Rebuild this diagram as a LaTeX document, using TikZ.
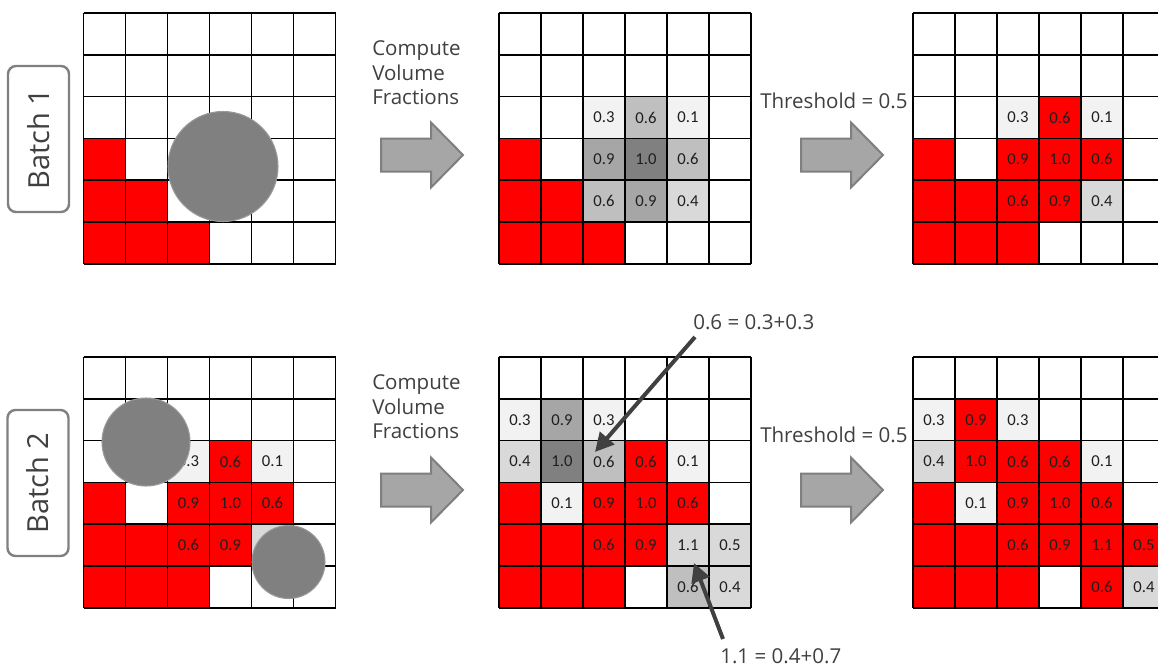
\documentclass[tikz,border=0pt]{standalone}
\usepackage{fontspec}
\setmainfont{Open Sans}
\newfontfamily\cellfont{Carlito}
\usetikzlibrary{arrows.meta,calc}
\definecolor{redc}{HTML}{FF0000}
\definecolor{ga}{HTML}{F2F2F2}
\definecolor{gb}{HTML}{D9D9D9}
\definecolor{gc}{HTML}{BFBFBF}
\definecolor{gd}{HTML}{A6A6A6}
\definecolor{ge}{HTML}{808080}
\definecolor{txt}{HTML}{404040}
\definecolor{arrowfill}{HTML}{A6A6A6}
\definecolor{arrowedge}{HTML}{7F7F7F}
\tikzset{
 cellbox/.style={inner sep=0, minimum width=31.5pt, minimum height=31.35pt, font=\cellfont\fontsize{12.5}{12.5}\selectfont, text=black!88},
 gridline/.style={black, line width=1.1pt},
 ball/.style={fill=ge, draw=ge!80!white, line width=0.8pt},
 blockarrow/.style={fill=arrowfill, draw=arrowedge, line width=1.5pt, line join=miter},
 steplabel/.style={font=\fontsize{15.4}{18.4}\selectfont, text=txt, align=left, inner sep=0},
 batchbox/.style={draw=ge, line width=1.8pt, rounded corners=6pt, rotate=90, minimum width=109.5pt, minimum height=45.75pt, inner sep=0, font=\fontsize{21.75}{22}\selectfont, text=txt},
 annot/.style={draw=txt, line width=3pt, -{Triangle[length=14pt,width=14pt]}},
 annlabel/.style={font=\fontsize{15.4}{18}\selectfont, text=txt, inner sep=0},
}
\newcommand\gridat[4]{%
 \foreach \c/\r/\f/\t in {#3} {\node[cellbox, fill=\f] (#4-\c-\r) at ({#1+\c*42+21},{#2+\r*41.8+20.9}) {\t};}
 \foreach \i in {0,...,6} {
   \draw[gridline] ({#1+\i*42},#2) -- ({#1+\i*42},{#2+250.8});
   \draw[gridline] (#1,{#2+\i*41.8}) -- ({#1+252},{#2+\i*41.8});
 }
}
\newcommand\blockarrowat[2]{%
 \draw[blockarrow] (#1,{#2-16.5}) -- ({#1+50},{#2-16.5}) -- ({#1+50},{#2-32.5}) -- ({#1+82},#2) -- ({#1+50},{#2+32.5}) -- ({#1+50},{#2+16.5}) -- (#1,{#2+16.5}) -- cycle;}
\begin{document}
\begin{tikzpicture}[x=0.75pt,y=-0.75pt]
\useasboundingbox (0,0) rectangle (1158,668);
\clip (0,0) rectangle (1158,668);
\fill[white] (0,0) rectangle (1158,668);
% batch labels
\node[batchbox] (batch1) at (38.5,139) {Batch 1};
\node[batchbox] (batch2) at (38,483) {Batch 2};
% ---------- top row ----------
\gridat{83.5}{13}{0/3/redc/{},0/4/redc/{},1/4/redc/{},0/5/redc/{},1/5/redc/{},2/5/redc/{}}{ta}
\draw[ball] (223,166.5) circle (55);
\gridat{499}{13}{0/3/redc/{},0/4/redc/{},1/4/redc/{},0/5/redc/{},1/5/redc/{},2/5/redc/{},
 2/2/ga/0.3,3/2/gc/0.6,4/2/ga/0.1,2/3/gd/0.9,3/3/ge/1.0,4/3/gc/0.6,2/4/gc/0.6,3/4/gd/0.9,4/4/gb/0.4}{tb}
\gridat{913}{13}{0/3/redc/{},0/4/redc/{},1/4/redc/{},0/5/redc/{},1/5/redc/{},2/5/redc/{},
 2/2/ga/0.3,3/2/redc/0.6,4/2/ga/0.1,2/3/redc/0.9,3/3/redc/1.0,4/3/redc/0.6,2/4/redc/0.6,3/4/redc/0.9,4/4/gb/0.4}{tc}
\node[steplabel, anchor=west] (comp1) at (372,73) {Compute\\Volume\\Fractions};
\blockarrowat{381}{155}
\node[annlabel, anchor=base west] (thr1) at (760,108) {Threshold = 0.5};
\blockarrowat{801}{155}
% ---------- bottom row ----------
\gridat{83.5}{357}{0/3/redc/{},0/4/redc/{},1/4/redc/{},0/5/redc/{},1/5/redc/{},2/5/redc/{},
 2/2/ga/0.3,3/2/redc/0.6,4/2/ga/0.1,2/3/redc/0.9,3/3/redc/1.0,4/3/redc/0.6,2/4/redc/0.6,3/4/redc/0.9,4/4/gb/{}}{ba}
\draw[ball] (146,442) circle (44);
\draw[ball] (288.5,562) circle (36.5);
\gridat{499}{357}{0/1/ga/0.3,1/1/gd/0.9,2/1/ga/0.3,0/2/gb/0.4,1/2/ge/1.0,2/2/gc/0.6,3/2/redc/0.6,4/2/ga/0.1,
 0/3/redc/{},1/3/ga/0.1,2/3/redc/0.9,3/3/redc/1.0,4/3/redc/0.6,
 0/4/redc/{},1/4/redc/{},2/4/redc/0.6,3/4/redc/0.9,4/4/gb/1.1,5/4/gb/0.5,
 0/5/redc/{},1/5/redc/{},2/5/redc/{},4/5/gc/0.6,5/5/gb/0.4}{bb}
\gridat{913}{357}{0/1/ga/0.3,1/1/redc/0.9,2/1/ga/0.3,0/2/gb/0.4,1/2/redc/1.0,2/2/redc/0.6,3/2/redc/0.6,4/2/ga/0.1,
 0/3/redc/{},1/3/ga/0.1,2/3/redc/0.9,3/3/redc/1.0,4/3/redc/0.6,
 0/4/redc/{},1/4/redc/{},2/4/redc/0.6,3/4/redc/0.9,4/4/redc/1.1,5/4/redc/0.5,
 0/5/redc/{},1/5/redc/{},2/5/redc/{},4/5/redc/0.6,5/5/gb/0.4}{bc}
\node[steplabel, anchor=west] (comp2) at (372,407) {Compute\\Volume\\Fractions};
\blockarrowat{381}{490}
\node[annlabel, anchor=base west] (thr2) at (760,442) {Threshold = 0.5};
\blockarrowat{801}{490}
% annotations
\node[annlabel, anchor=base west] (ann1) at (693,329) {0.6 = 0.3+0.3};
\node[annlabel, anchor=base west] (ann2) at (720,663) {1.1 = 0.4+0.7};
\coordinate (a1s) at (695,337);
\coordinate (a1e) at (595,452);
\coordinate (a2s) at (723,639);
\coordinate (a2e) at (694,563);
\draw[annot] (a1s) -- (a1e);
\draw[annot] (a2s) -- (a2e);
\end{tikzpicture}
\end{document}
